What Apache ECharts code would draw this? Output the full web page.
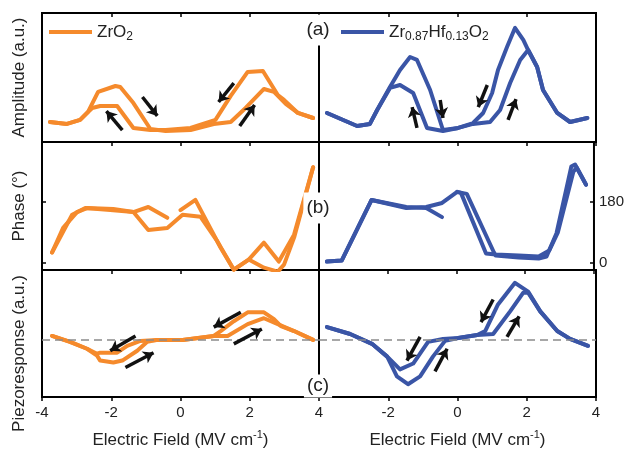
<!DOCTYPE html>
<html><head><meta charset="utf-8">
<script src="https://cdn.jsdelivr.net/npm/echarts@6/dist/echarts.min.js"></script>
<style>html,body{margin:0;padding:0;background:#fff}#c{width:627px;height:452px}</style>
</head><body><div id="c"></div>
<script>
// ---------- data ----------
const xRange = [-4, 4];
const phaseTicks = [0, 180];
const seriesNames = ['ZrO2', 'Zr0.87Hf0.13O2'];
const panelLabels = ['(a)', '(b)', '(c)'];
const yTitles = ['Amplitude (a.u.)', 'Phase (°)', 'Piezoresponse (a.u.)'];

// Amplitude
const zrAmpForward = [[-3.77,1.55],[-3.28,1.40],[-2.90,1.71],[-2.67,2.33],[-2.38,3.88],[-1.88,4.34],[-1.74,4.26],[-1.36,3.02],[-0.87,1.01],[-0.43,0.85],[0.29,0.93],[0.96,1.40],[1.45,1.55],[1.88,2.64],[2.41,4.11],[2.70,3.88],[3.04,2.95],[3.39,2.25],[3.83,1.86]];
const zrAmpReverse = [[3.83,1.86],[3.39,2.25],[2.99,3.26],[2.81,3.64],[2.38,5.50],[1.94,5.43],[1.45,3.57],[1.01,1.71],[0.29,1.09],[-0.43,0.93],[-0.87,0.93],[-1.36,1.09],[-1.83,2.79],[-2.32,2.79],[-2.55,2.64],[-2.67,2.33],[-2.90,1.71],[-3.28,1.40],[-3.77,1.55]];
const hfAmpForward = [[-3.77,2.25],[-2.90,1.24],[-2.53,1.40],[-2.32,2.48],[-1.95,4.26],[-1.66,5.58],[-1.37,6.59],[-1.17,6.36],[-0.79,4.03],[-0.42,0.93],[0.02,1.09],[0.45,1.40],[0.94,1.55],[1.23,2.48],[1.52,4.57],[1.81,6.36],[2.04,7.13],[2.30,5.81],[2.47,4.03],[2.88,2.25],[3.25,1.55],[3.75,1.86]];
const hfAmpReverse = [[3.75,1.86],[3.25,1.55],[2.88,2.25],[2.47,4.03],[2.30,5.81],[2.04,7.13],[1.90,7.91],[1.66,8.84],[1.43,7.36],[1.17,5.58],[1.00,3.80],[0.74,2.25],[0.45,1.47],[0.02,1.09],[-0.42,0.85],[-0.88,1.09],[-1.28,3.80],[-1.66,4.42],[-1.95,4.19],[-2.32,2.48],[-2.53,1.40],[-2.90,1.24],[-3.77,2.25]];

// Phase (degrees)
const zrPhaseA = [[0.00,156],[0.43,186],[0.78,118],[1.16,44],[1.54,-21],[1.97,9],[2.41,59],[2.84,3],[3.28,83],[3.83,283]];
const zrPhaseB = [[3.83,283],[3.28,74],[2.99,-6],[2.81,-27],[2.41,-15],[1.97,9],[1.54,-21],[1.07,62],[0.58,136],[0.06,142],[-0.38,103],[-0.93,97],[-1.36,150],[-2.03,156],[-2.75,162],[-3.13,142],[-3.71,30]];
const zrPhaseC = [[-3.71,30],[-3.39,103],[-2.99,150],[-2.70,162],[-1.94,159],[-1.36,150],[-0.93,165],[-0.38,133]];
const hfPhaseA = [[0.02,210],[0.30,204],[1.09,30],[1.14,21],[1.81,15],[2.39,12],[2.62,18],[2.91,87],[3.34,285],[3.45,291],[3.77,231]];
const hfPhaseB = [[3.77,231],[3.50,282],[3.40,270],[2.95,90],[2.70,36],[2.39,18],[1.81,21],[1.14,24],[0.86,27],[0.13,207],[0.02,210],[-0.42,177],[-0.88,165],[-1.46,162],[-2.47,186],[-3.34,6],[-3.77,3]];
const hfPhaseC = [[-3.77,3],[-3.34,6],[-2.47,186],[-1.46,165],[-0.88,162],[-0.42,135]];

// Piezoresponse
const zrPiezoUpper = [[3.83,0.00],[3.28,0.09],[2.90,0.14],[2.70,0.21],[2.41,0.28],[1.94,0.28],[1.54,0.19],[1.16,0.09],[0.96,0.04],[0.06,0.00],[-0.67,0.00],[-1.16,-0.01],[-1.54,-0.06],[-1.83,-0.13],[-2.32,-0.13],[-2.41,-0.14],[-2.70,-0.09],[-3.19,-0.02],[-3.71,0.04]];
const zrPiezoLower = [[-3.71,0.04],[-3.19,-0.02],[-2.70,-0.09],[-2.41,-0.16],[-2.32,-0.21],[-1.94,-0.23],[-1.68,-0.21],[-1.25,-0.11],[-0.96,-0.02],[-0.67,0.00],[0.06,0.00],[0.96,0.04],[1.36,0.04],[1.94,0.16],[2.41,0.22],[2.81,0.16],[3.28,0.09],[3.83,0.00]];
const hfPiezoUpper = [[3.77,-0.06],[3.25,0.01],[2.88,0.09],[2.39,0.29],[2.04,0.49],[1.66,0.58],[1.17,0.36],[0.80,0.09],[0.57,0.05],[0.02,0.02],[-0.42,0.01],[-0.85,-0.02],[-1.28,-0.24],[-1.66,-0.30],[-2.03,-0.17],[-2.47,-0.04],[-3.10,0.06],[-3.77,0.13]];
const hfPiezoLower = [[-3.77,0.13],[-3.10,0.06],[-2.47,-0.04],[-2.03,-0.17],[-1.75,-0.37],[-1.43,-0.45],[-1.08,-0.37],[-0.71,-0.17],[-0.36,-0.01],[0.02,0.02],[0.57,0.05],[1.03,0.06],[1.52,0.29],[1.90,0.48],[2.04,0.48],[2.39,0.29],[2.88,0.09],[3.25,0.01],[3.77,-0.06]];

// Sweep-direction arrows: [xTail, yTail, xHead, yHead]
const zrAmpArrows = [[-1.68,0.93,-2.14,2.40],[-1.10,3.49,-0.67,2.02],[1.54,4.57,1.10,3.10],[1.71,1.24,2.14,2.87]];
const hfAmpArrows = [[-1.17,1.09,-1.31,2.71],[-0.50,3.26,-0.42,1.86],[0.86,4.42,0.60,2.71],[1.46,1.71,1.69,3.33]];
const zrPiezoArrows = [[-1.30,0.04,-2.03,-0.11],[-1.59,-0.28,-0.78,-0.13],[1.74,0.28,0.96,0.13],[1.54,-0.04,2.35,0.11]];
const hfPiezoArrows = [[-1.08,0.03,-1.46,-0.21],[-0.65,-0.32,-0.30,-0.09],[1.03,0.41,0.68,0.18],[1.43,0.03,1.78,0.24]];

// ---------- chart ----------
const ORANGE = '#F58A2C', BLUE = '#3A55A6', TXT = '#222';
const grids = [
  {left:42, top:13, width:277, height:129},
  {left:319, top:13, width:277, height:129},
  {left:42, top:142, width:277, height:128},
  {left:319, top:142, width:277, height:128},
  {left:42, top:270, width:277, height:129},
  {left:319, top:270, width:277, height:129}
].map(g => Object.assign(g, {show:true, borderColor:'#000', borderWidth:2, backgroundColor:'transparent', containLabel:false}));

const xAxes = [];
for (let i = 0; i < 6; i++) {
  const bottomRow = i >= 4;
  xAxes.push({
    type:'value', gridIndex:i, position:'bottom', min:xRange[0], max:xRange[1], interval:2,
    axisLine:{show:false, onZero:false}, splitLine:{show:false},
    axisTick:{show:true, inside:false, length:4, lineStyle:{color:'#000', width:1.5}},
    axisLabel:{show:bottomRow, fontSize:15, color:TXT, margin:8, fontFamily:'Liberation Sans', showMinLabel: i === 5 ? false : true},
    name: bottomRow ? 'Electric Field (MV cm{sup|-1})' : '',
    nameLocation:'middle', nameGap:32,
    nameTextStyle:{fontSize:17, color:TXT, fontFamily:'Liberation Sans', lineHeight:22,
      rich:{sup:{fontSize:11, lineHeight:11, verticalAlign:'top', color:TXT, fontFamily:'Liberation Sans'}}}
  });
}
for (let i = 0; i < 2; i++) {
  xAxes.push({
    type:'value', gridIndex:i, position:'top', min:xRange[0], max:xRange[1], interval:2,
    axisLine:{show:false, onZero:false}, splitLine:{show:false}, axisLabel:{show:false},
    axisTick:{show:true, inside:true, length:4, lineStyle:{color:'#000', width:1.5}}
  });
}

const yBase = {type:'value', axisLine:{show:false, onZero:false}, splitLine:{show:false}, axisTick:{show:false}, axisLabel:{show:false}};
const yName = (t) => ({name:t, nameLocation:'middle', nameRotate:90, nameGap:14,
  nameTextStyle:{fontSize:17, color:TXT, fontFamily:'Liberation Sans'}});
const yAxes = [
  Object.assign({}, yBase, {gridIndex:0, position:'left', min:0, max:10}, yName(yTitles[0])),
  Object.assign({}, yBase, {gridIndex:1, position:'left', min:0, max:10}),
  Object.assign({}, yBase, {gridIndex:2, position:'left', min:-22, max:358,
    axisTick:{show:true, inside:true, length:4, customValues:phaseTicks, lineStyle:{color:'#000', width:1.5}}}, yName(yTitles[1])),
  Object.assign({}, yBase, {gridIndex:3, min:-22, max:358, position:'right',
    axisTick:{show:true, inside:true, length:4, customValues:phaseTicks, lineStyle:{color:'#000', width:1.5}},
    axisLabel:{show:true, customValues:phaseTicks, fontSize:15, color:TXT, margin:5, fontFamily:'Liberation Sans'}}),
  Object.assign({}, yBase, {gridIndex:4, position:'left', min:-0.58, max:0.71}, yName(yTitles[2]),
    {nameTextStyle:{fontSize:17, color:TXT, fontFamily:'Liberation Sans', padding:[0,40,0,0]}}),
  Object.assign({}, yBase, {gridIndex:5, position:'left', min:-0.58, max:0.71})
];

function line(name, data, gi, color, extra) {
  return Object.assign({type:'line', name, data, xAxisIndex:gi, yAxisIndex:gi,
    symbol:'none', showSymbol:false, clip:true, z:3,
    lineStyle:{color, width:4, join:'round', cap:'round'}, itemStyle:{color}}, extra || {});
}
function arrows(data, gi) {
  return {type:'lines', name:'arrows', coordinateSystem:'cartesian2d', xAxisIndex:gi, yAxisIndex:gi,
    symbol:['none','arrow'], symbolSize:10, z:6, silent:true,
    lineStyle:{color:'#111', width:3.5, opacity:1, curveness:0},
    data: data.map(a => ({coords:[[a[0],a[1]],[a[2],a[3]]]}))};
}
const zeroLine = {silent:true, symbol:['none','none'], label:{show:false},
  lineStyle:{color:'#8a8a8a', type:[8,5], width:1.5}, data:[{yAxis:0}], animation:false};

const series = [
  line(seriesNames[0], zrAmpForward, 0, ORANGE),
  line(seriesNames[0], zrAmpReverse, 0, ORANGE),
  line(seriesNames[1], hfAmpForward, 1, BLUE),
  line(seriesNames[1], hfAmpReverse, 1, BLUE),
  line(seriesNames[0], zrPhaseA, 2, ORANGE),
  line(seriesNames[0], zrPhaseB, 2, ORANGE),
  line(seriesNames[0], zrPhaseC, 2, ORANGE),
  line(seriesNames[1], hfPhaseA, 3, BLUE),
  line(seriesNames[1], hfPhaseB, 3, BLUE),
  line(seriesNames[1], hfPhaseC, 3, BLUE),
  line(seriesNames[0], zrPiezoUpper, 4, ORANGE, {markLine:zeroLine}),
  line(seriesNames[0], zrPiezoLower, 4, ORANGE),
  line(seriesNames[1], hfPiezoUpper, 5, BLUE, {markLine:zeroLine}),
  line(seriesNames[1], hfPiezoLower, 5, BLUE),
  arrows(zrAmpArrows, 0), arrows(hfAmpArrows, 1),
  arrows(zrPiezoArrows, 4), arrows(hfPiezoArrows, 5)
];

const legendText = {fontSize:17, color:TXT, fontFamily:'Liberation Sans', lineHeight:22,
  rich:{sub:{fontSize:12, lineHeight:12, verticalAlign:'bottom', color:TXT, fontFamily:'Liberation Sans'}}};
const legends = [
  {data:[seriesNames[0]], left:44, top:16, icon:'rect', itemWidth:43, itemHeight:4, itemGap:0,
   formatter:() => 'ZrO{sub|2}', textStyle:legendText, selectedMode:false},
  {data:[seriesNames[1]], left:336, top:16, icon:'rect', itemWidth:43, itemHeight:4, itemGap:0,
   formatter:() => 'Zr{sub|0.87}Hf{sub|0.13}O{sub|2}', textStyle:legendText, selectedMode:false}
];

const labelY = [30, 208, 386];
const labelPad = [[6,3,6,3],[6,3,6,3],[3,3,1,3]];
const graphic = panelLabels.map((t, i) => ({
  type:'text', x:318, y:labelY[i], z:100,
  style:{text:t, fill:TXT, font:'19px "Liberation Sans"', align:'center', verticalAlign:'middle',
    backgroundColor:'#fff', padding:labelPad[i]}
}));

const chart = echarts.init(document.getElementById('c'), null, {renderer:'canvas'});
chart.setOption({
  animation:false, backgroundColor:'#fff',
  textStyle:{fontFamily:'Liberation Sans'},
  grid:grids, xAxis:xAxes, yAxis:yAxes, series, legend:legends, graphic
});
</script>
</body></html>
